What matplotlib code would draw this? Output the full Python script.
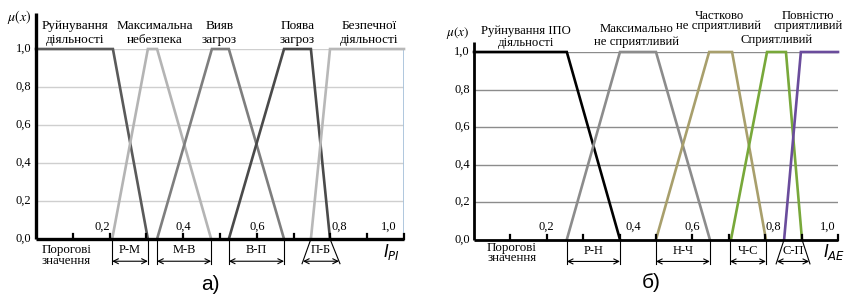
import matplotlib
matplotlib.use("Agg")
import matplotlib.pyplot as plt

plt.rcParams['font.family'] = ['Liberation Serif', 'DejaVu Serif']
plt.rcParams['mathtext.fontset'] = 'dejavusans'

# ---------------- data: panel а) ----------------
a_names = ["Руйнування\nдіяльності", "Максимальна\nнебезпека", "Вияв\nзагроз",
           "Поява\nзагроз", "Безпечної\nдіяльності"]
a_x = [[0.0, 0.209, 0.304],
       [0.207, 0.304, 0.329, 0.476],
       [0.329, 0.478, 0.524, 0.674],
       [0.524, 0.674, 0.747, 0.799],
       [0.747, 0.799, 1.0]]
a_y = [[1, 1, 0], [0, 1, 1, 0], [0, 1, 1, 0], [0, 1, 1, 0], [0, 1, 1]]
a_brackets = ["Р-М", "М-В", "В-П", "П-Б"]
a_br_top = [(0.207, 0.304), (0.329, 0.476), (0.524, 0.674), (0.747, 0.799)]
a_br_bot = [(0.207, 0.304), (0.329, 0.476), (0.524, 0.674), (0.723, 0.826)]

# ---------------- data: panel б) ----------------
b_names = ["Руйнування ІПО\nдіяльності", "Максимально\nне сприятливий",
           "Частково\nне сприятливий", "Сприятливий", "Повністю\nсприятливий"]
b_x = [[0.0, 0.255, 0.401],
       [0.255, 0.401, 0.5, 0.648],
       [0.5, 0.646, 0.709, 0.802],
       [0.706, 0.805, 0.857, 0.901],
       [0.852, 0.898, 1.0]]
b_y = [[1, 1, 0], [0, 1, 1, 0], [0, 1, 1, 0], [0, 1, 1, 0], [0, 1, 1]]
b_brackets = ["Р-Н", "Н-Ч", "Ч-С", "С-П"]
b_br_top = [(0.255, 0.401), (0.5, 0.648), (0.703, 0.802), (0.852, 0.901)]
b_br_bot = [(0.255, 0.401), (0.5, 0.648), (0.703, 0.802), (0.830, 0.923)]

y_ticks = [0.0, 0.2, 0.4, 0.6, 0.8, 1.0]
y_labels = ["0,0", "0,2", "0,4", "0,6", "0,8", "1,0"]
x_ticks = [0.1, 0.2, 0.3, 0.4, 0.5, 0.6, 0.7, 0.8, 0.9, 1.0]
x_labels = ["0,2", "0,4", "0,6", "0,8", "1,0"]

# styles / positions
a_colors = ["#5a5a5a", "#b4b4b4", "#7e7e7e", "#4a4a4a", "#b8b8b8"]
b_colors = ["#000000", "#8c8c8c", "#a89f6c", "#78a83a", "#6a4c9c"]
a_name_pos = [(0.106, 1.084), (0.322, 1.084), (0.499, 1.084), (0.711, 1.084), (0.905, 1.084)]
a_name_ls = [1.3, 1.3, 1.3, 1.3, 1.3]
b_name_pos = [(0.143, 1.08), (0.447, 1.088), (0.673, 1.165), (0.832, 1.064), (0.917, 1.165)]
b_name_ls = [0.9, 1.0, 0.82, 1.0, 0.82]
a_xl_pos = [0.179, 0.399, 0.601, 0.823, 0.959]
b_xl_pos = [0.198, 0.437, 0.599, 0.821, 0.973]

W, H = 847, 301
fig = plt.figure(figsize=(W / 100, H / 100), dpi=100)


def panel(rect, xs, ys, colors, names, name_pos, name_ls, name_fs, brackets, br_top, br_bot,
          xl_pos, grid_color, spine_top, spine_lw, sub, porog_pos, ilabel_pos, bluebar):
    ax = fig.add_axes(rect)
    ax.set_xlim(0, 1)
    ax.set_ylim(0, 1)
    for s in ax.spines.values():
        s.set_visible(False)
    ax.set_xticks([])
    ax.set_yticks([])
    ax.patch.set_alpha(0)
    # grid
    for t in y_ticks[1:]:
        ax.plot([0, 1], [t, t], color=grid_color, lw=1.0, zorder=1)
    if bluebar:
        ax.plot([1, 1], [0, 1], color="#a9c3db", lw=1.3, zorder=1)
    # curves
    for x, y, c in zip(xs, ys, colors):
        ax.plot(x, y, color=c, lw=1.9, zorder=3, clip_on=False, solid_joinstyle='miter')
    # axes lines
    ax.plot([0, 0], [0, spine_top], color="black", lw=spine_lw, clip_on=False, zorder=5,
            solid_capstyle='butt')
    ax.plot([0, 1], [0, 0], color="black", lw=spine_lw, clip_on=False, zorder=5,
            solid_capstyle='butt')
    for t in x_ticks:
        ax.plot([t, t], [0, 0.025], color="black", lw=1.6, zorder=5, clip_on=False)
    # y tick labels
    for t, l in zip(y_ticks, y_labels):
        ax.text(-0.012, t, l, ha="right", va="center", fontsize=9, clip_on=False)
    # x tick labels (inside)
    for px, l in zip(xl_pos, x_labels):
        ax.text(px, 0.035, l, ha="center", va="bottom", fontsize=9)
    # names
    for n, (px, py), ls in zip(names, name_pos, name_ls):
        ax.text(px, py, n, ha="center", va="center", fontsize=name_fs, linespacing=ls,
                clip_on=False)
    # brackets
    for lab, (t0, t1), (b0, b1) in zip(brackets, br_top, br_bot):
        ax.plot([t0, b0], [0, -0.13], color="black", lw=0.8, clip_on=False)
        ax.plot([t1, b1], [0, -0.13], color="black", lw=0.8, clip_on=False)
        fy = 0.117 / 0.13
        l0 = t0 + (b0 - t0) * fy
        l1 = t1 + (b1 - t1) * fy
        ax.annotate("", xy=(l0, -0.117), xytext=(l1, -0.117),
                    arrowprops=dict(arrowstyle="<->", lw=0.8, color="black",
                                    shrinkA=0, shrinkB=0, mutation_scale=9),
                    annotation_clip=False)
        ax.text((t0 + t1) / 2, -0.06, lab, ha="center", va="center", fontsize=9,
                clip_on=False)
    ax.text(porog_pos[0], porog_pos[1], "Порогові\nзначення", ha="center", va="center",
            fontsize=9.3, linespacing=0.82, clip_on=False)
    ax.text(ilabel_pos[0], ilabel_pos[1], r"$I_{%s}$" % sub, ha="center", va="center",
            fontsize=12, clip_on=False)
    return ax


axA = panel([36 / W, 62 / H, 368 / W, 190 / H], a_x, a_y, a_colors, a_names, a_name_pos,
            a_name_ls, 9.5, a_brackets, a_br_top, a_br_bot, a_xl_pos, "#cfcfcf", 1.19, 2.4,
            "PI", (0.082, -0.087), (0.965, -0.068), True)
axA.text(-0.045, 1.17, r"$\mu(x)$", ha="center", va="center", fontsize=10,
         math_fontfamily="stix", clip_on=False)

axB = panel([474 / W, 61.5 / H, 364 / W, 187.5 / H], b_x, b_y, b_colors, b_names, b_name_pos,
            b_name_ls, 9.2, b_brackets, b_br_top, b_br_bot, b_xl_pos, "#8c8c8c", 1.053, 2.0,
            "AE", (0.104, -0.072), (0.99, -0.067), False)
axB.text(-0.044, 1.101, r"$\mu(x)$", ha="center", va="center", fontsize=9.5,
         math_fontfamily="stix", clip_on=False)

fig.text(210 / W, 1 - 285 / H, "а)", ha="center", va="center", fontsize=15,
         family="Liberation Sans")
fig.text(651 / W, 1 - 283 / H, "б)", ha="center", va="center", fontsize=15,
         family="Liberation Sans")

fig.savefig("out.png", dpi=100)
